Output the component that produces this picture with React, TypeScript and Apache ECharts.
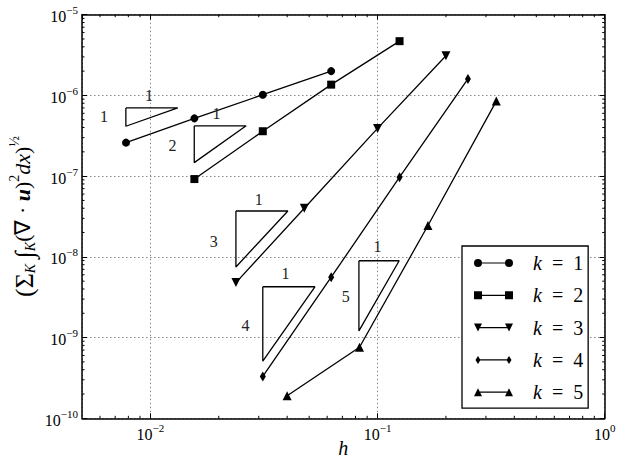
import React, { useEffect, useRef } from 'react';
import * as echarts from 'echarts';

// ---- data ----
const hK1 = [0.0078125, 0.015625, 0.03125, 0.0625];
const errK1 = [2.6e-7, 5.2e-7, 1.02e-6, 2.0e-6];
const hK2 = [0.015625, 0.03125, 0.0625, 0.125];
const errK2 = [9.2e-8, 3.6e-7, 1.36e-6, 4.7e-6];
const hK3 = [0.0238, 0.0476, 0.1, 0.2];
const errK3 = [4.8e-9, 4.0e-8, 3.9e-7, 3.1e-6];
const hK4 = [0.03125, 0.0625, 0.125, 0.25];
const errK4 = [3.3e-10, 5.6e-9, 9.7e-8, 1.6e-6];
const hK5 = [0.04, 0.0833, 0.1667, 0.3333];
const errK5 = [1.9e-10, 7.6e-10, 2.45e-8, 8.5e-7];

const seriesNames = ['k = 1', 'k = 2', 'k = 3', 'k = 4', 'k = 5'];

// slope triangles: [x0, x1] and [yTop, yBottom]
const triX = [
  [0.0078, 0.0132],
  [0.0156, 0.0264],
  [0.0238, 0.0403],
  [0.03125, 0.053],
  [0.0828, 0.1245],
];
const triY = [
  [7.0e-7, 4.15e-7],
  [4.2e-7, 1.47e-7],
  [3.7e-8, 7.5e-9],
  [4.26e-9, 5.1e-10],
  [8.95e-9, 1.21e-9],
];
// slope labels: [x, y, text]
const slopeLabels: [number, number, string][] = [
  [0.00625, 5.45e-7, '1'],
  [0.00987, 1.01e-6, '1'],
  [0.0125, 2.38e-7, '2'],
  [0.01954, 6.0e-7, '1'],
  [0.019, 1.54e-8, '3'],
  [0.03, 5.2e-8, '1'],
  [0.0262, 1.43e-9, '4'],
  [0.0393, 6.25e-9, '1'],
  [0.0724, 3.2e-9, '5'],
  [0.1, 1.33e-8, '1'],
];

const X_MIN = 0.005;
const X_MAX = 1;
const Y_MIN = 1e-10;
const Y_MAX = 1e-5;

const xMinorTicks = [
  0.006, 0.007, 0.008, 0.009,
  0.02, 0.03, 0.04, 0.05, 0.06, 0.07, 0.08, 0.09,
  0.2, 0.3, 0.4, 0.5, 0.6, 0.7, 0.8, 0.9,
];
const minorMantissas = [2, 3, 4, 5, 6, 7, 8, 9];
const yDecades = [-10, -9, -8, -7, -6];
const yMinorTicks: number[] = [];
yDecades.forEach((e) => minorMantissas.forEach((m) => yMinorTicks.push(m * Math.pow(10, e))));

const FONT = 'Liberation Serif';

const zip = (a: number[], b: number[]) => a.map((v, i) => [v, b[i]]);

const DIAMOND = 'path://M4,0L7,5L4,10L1,5Z';
const legendIcons = [
  'path://M0,4a4,4 0 1,1 8,0a4,4 0 1,1 -8,0Z M31,4a4,4 0 1,1 8,0a4,4 0 1,1 -8,0Z M8,3.4h23v1.2h-23Z',
  'path://M0,0h8v8h-8Z M31,0h8v8h-8Z M8,3.4h23v1.2h-23Z',
  'path://M0,0h8l-4,8Z M31,0h8l-4,8Z M4,3.4h31v1.2h-31Z',
  'path://M4,0L6.5,4L4,8L1.5,4Z M35,0L37.5,4L35,8L32.5,4Z M4,3.4h31v1.2h-31Z',
  'path://M4,0L8,8L0,8Z M35,0L39,8L31,8Z M4,3.4h31v1.2h-31Z',
];

function tickLabel(v: number) {
  const e = Math.round(Math.log10(v));
  if (Math.abs(Math.log10(v) - e) > 1e-6) return '';
  const s = e < 0 ? '\u2212' + Math.abs(e) : String(e);
  return '{b|10}{s|' + s + '}';
}

const tickRich = {
  b: { fontSize: 16, fontFamily: FONT, fontWeight: 'normal', color: '#000', lineHeight: 20, verticalAlign: 'bottom' },
  s: { fontSize: 11, fontFamily: FONT, fontWeight: 'normal', color: '#000', lineHeight: 11, verticalAlign: 'top' },
};

export default function App() {
  const ref = useRef<HTMLDivElement>(null);
  useEffect(() => {
    if (!ref.current) return;
    const chart = echarts.init(ref.current, undefined, { renderer: 'svg' });

    const lineSeries = [
      { data: zip(hK1, errK1), symbol: 'circle', symbolSize: 8, symbolRotate: 0 },
      { data: zip(hK2, errK2), symbol: 'rect', symbolSize: 8, symbolRotate: 0 },
      { data: zip(hK3, errK3), symbol: 'triangle', symbolSize: 9, symbolRotate: 180 },
      { data: zip(hK4, errK4), symbol: DIAMOND, symbolSize: [6, 10], symbolRotate: 0 },
      { data: zip(hK5, errK5), symbol: 'triangle', symbolSize: 9, symbolRotate: 0 },
    ].map((s, i) => ({
      type: 'line',
      name: seriesNames[i],
      xAxisIndex: 0,
      yAxisIndex: 0,
      data: s.data,
      symbol: s.symbol,
      symbolSize: s.symbolSize,
      symbolRotate: s.symbolRotate,
      showSymbol: true,
      color: '#000',
      itemStyle: { color: '#000' },
      lineStyle: { color: '#000', width: 1.3 },
      z: 5,
    }));

    const triSeries = triX.map((tx, i) => ({
      type: 'line',
      xAxisIndex: 0,
      yAxisIndex: 0,
      data: [
        [tx[0], triY[i][0]],
        [tx[1], triY[i][0]],
        [tx[0], triY[i][1]],
        [tx[0], triY[i][0]],
      ],
      showSymbol: false,
      symbol: 'none',
      color: '#000',
      lineStyle: { color: '#000', width: 1.3 },
      silent: true,
      z: 4,
    }));

    const labelSeries = {
      type: 'custom',
      xAxisIndex: 0,
      yAxisIndex: 0,
      data: slopeLabels.map((l) => [l[0], l[1]]),
      silent: true,
      clip: false,
      renderItem: (params: any, api: any) => {
        const p = api.coord([api.value(0), api.value(1)]);
        return {
          type: 'text',
          x: p[0],
          y: p[1],
          style: {
            text: slopeLabels[params.dataIndex][2],
            fill: '#222',
            fontFamily: FONT,
            fontSize: 16,
            fontWeight: 'normal',
            align: 'center',
            verticalAlign: 'middle',
          },
        };
      },
      z: 6,
    };

    const minorX = {
      type: 'custom',
      xAxisIndex: 0,
      yAxisIndex: 0,
      data: xMinorTicks.map((v) => [v, Y_MIN]),
      silent: true,
      clip: false,
      renderItem: (params: any, api: any) => {
        const v = api.value(0);
        const b = api.coord([v, Y_MIN]);
        const t = api.coord([v, Y_MAX]);
        return {
          type: 'group',
          children: [
            { type: 'line', shape: { x1: b[0], y1: b[1], x2: b[0], y2: b[1] - 2.5 }, style: { stroke: '#000', lineWidth: 1 } },
            { type: 'line', shape: { x1: t[0], y1: t[1], x2: t[0], y2: t[1] + 2.5 }, style: { stroke: '#000', lineWidth: 1 } },
          ],
        };
      },
      z: 7,
    };
    const minorY = {
      type: 'custom',
      xAxisIndex: 0,
      yAxisIndex: 0,
      data: yMinorTicks.map((v) => [X_MIN, v]),
      silent: true,
      clip: false,
      renderItem: (params: any, api: any) => {
        const v = api.value(1);
        const l = api.coord([X_MIN, v]);
        const r = api.coord([X_MAX, v]);
        return {
          type: 'group',
          children: [
            { type: 'line', shape: { x1: l[0], y1: l[1], x2: l[0] + 2.5, y2: l[1] }, style: { stroke: '#000', lineWidth: 1 } },
            { type: 'line', shape: { x1: r[0], y1: r[1], x2: r[0] - 2.5, y2: r[1] }, style: { stroke: '#000', lineWidth: 1 } },
          ],
        };
      },
      z: 7,
    };

    const axisLineStyle = { color: '#000', width: 1.5 };

    chart.setOption({
      animation: false,
      backgroundColor: '#fff',
      textStyle: { fontFamily: FONT, color: '#000', fontWeight: 'normal' },
      grid: { left: 82, right: 18.3, top: 14.7, bottom: 44.7, containLabel: false, outerBoundsMode: 'none' },
      xAxis: [
        {
          type: 'log',
          logBase: 10,
          min: X_MIN,
          max: X_MAX,
          position: 'bottom',
          name: 'h',
          nameLocation: 'middle',
          nameGap: 20,
          nameMoveOverlap: false,
          nameTextStyle: { fontFamily: FONT, fontSize: 20, fontStyle: 'italic', fontWeight: 'normal', color: '#000' },
          axisLine: { show: true, lineStyle: axisLineStyle },
          axisTick: { show: true, inside: true, length: 5, lineStyle: { color: '#000', width: 1 } },
          axisLabel: { formatter: tickLabel, margin: 4, fontFamily: FONT, color: '#000', rich: tickRich, showMinLabel: false },
          splitLine: { show: true, lineStyle: { color: '#888', type: [1.5, 2.5], width: 1 } },
          minorTick: { show: false },
        },
        {
          type: 'log',
          logBase: 10,
          min: X_MIN,
          max: X_MAX,
          position: 'top',
          axisLine: { show: true, lineStyle: axisLineStyle },
          axisTick: { show: true, inside: true, length: 5, lineStyle: { color: '#000', width: 1 } },
          axisLabel: { show: false },
          splitLine: { show: false },
        },
      ],
      yAxis: [
        {
          type: 'log',
          logBase: 10,
          min: Y_MIN,
          max: Y_MAX,
          position: 'left',
          name:
            '{big|(\u03A3}{sub|K} {big|\u222B}{sub|K}(\u2207 \u00B7 {bu|u}){sup|2}{it|dx}){sup|\u00BD}',
          nameLocation: 'middle',
          nameGap: 45,
          nameMoveOverlap: false,
          nameTextStyle: {
            fontFamily: FONT,
            fontSize: 22,
            fontWeight: 'normal',
            color: '#000',
            rich: {
              big: { fontFamily: FONT, fontSize: 26, fontWeight: 'normal', color: '#000', lineHeight: 30, verticalAlign: 'bottom' },
              sub: { fontFamily: FONT, fontSize: 14, fontStyle: 'italic', fontWeight: 'normal', color: '#000', verticalAlign: 'bottom', lineHeight: 14 },
              sup: { fontFamily: FONT, fontSize: 14, fontWeight: 'normal', color: '#000', verticalAlign: 'top', lineHeight: 14 },
              bu: { fontFamily: FONT, fontSize: 22, fontStyle: 'italic', fontWeight: 'bold', color: '#000' },
              it: { fontFamily: FONT, fontSize: 22, fontStyle: 'italic', fontWeight: 'normal', color: '#000' },
            },
          },
          axisLine: { show: true, lineStyle: axisLineStyle },
          axisTick: { show: true, inside: true, length: 5, lineStyle: { color: '#000', width: 1 } },
          axisLabel: { formatter: tickLabel, margin: 4, fontFamily: FONT, color: '#000', rich: tickRich },
          splitLine: { show: true, lineStyle: { color: '#888', type: [1.5, 2.5], width: 1 } },
        },
        {
          type: 'log',
          logBase: 10,
          min: Y_MIN,
          max: Y_MAX,
          position: 'right',
          axisLine: { show: true, lineStyle: axisLineStyle },
          axisTick: { show: true, inside: true, length: 5, lineStyle: { color: '#000', width: 1 } },
          axisLabel: { show: false },
          splitLine: { show: false },
        },
      ],
      legend: {
        show: true,
        orient: 'vertical',
        left: 462,
        top: 246,
        data: seriesNames.map((n, i) => ({ name: n, icon: legendIcons[i] })),
        itemWidth: 39,
        itemHeight: 8,
        itemGap: 10.3,
        padding: [6, 5, 5, 12],
        borderColor: '#000',
        borderWidth: 1.3,
        backgroundColor: '#fff',
        borderRadius: 0,
        formatter: (name: string) => '{i|k}\u2002=\u2002' + name.split('=')[1].trim(),
        textStyle: {
          fontFamily: FONT,
          fontSize: 20,
          fontWeight: 'normal',
          color: '#000',
          lineHeight: 22,
          padding: [0, 0, 0, 15],
          rich: {
            i: { fontFamily: FONT, fontSize: 20, fontStyle: 'italic', fontWeight: 'normal', color: '#000', lineHeight: 22 },
          },
        },
        selectedMode: false,
      },
      series: [...lineSeries, ...triSeries, labelSeries, minorX, minorY],
    });

    return () => chart.dispose();
  }, []);

  return (
    <div
      ref={ref}
      style={{ position: 'fixed', left: 0, top: 0, width: 623, height: 463, background: '#fff' }}
    />
  );
}
